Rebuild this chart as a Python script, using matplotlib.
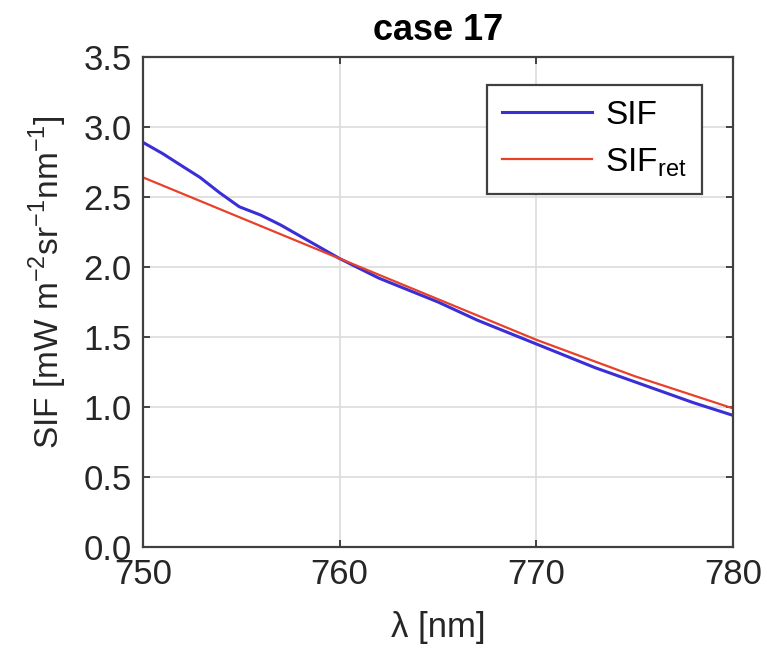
import numpy as np
import matplotlib.pyplot as plt

plt.rcParams['font.family'] = ['Liberation Sans', 'DejaVu Sans']
plt.rcParams['mathtext.fontset'] = 'custom'
plt.rcParams['mathtext.rm'] = 'Liberation Sans'

# wavelength [nm] and SIF values
wl_sif = [750, 751, 752, 752.9, 753.9, 754.9, 756, 757, 758, 759, 760, 762, 765, 767,
          770, 773, 776, 778, 780]
sif = [2.89, 2.81, 2.72, 2.64, 2.53, 2.43, 2.37, 2.30, 2.22, 2.14, 2.06, 1.92, 1.75, 1.62,
       1.45, 1.28, 1.13, 1.03, 0.94]

wl_ret = [750, 755, 760, 765, 770, 775, 780]
sif_ret = [2.64, 2.35, 2.06, 1.77, 1.48, 1.22, 0.99]

xticks = [750, 760, 770, 780]
yticks = [0.0, 0.5, 1.0, 1.5, 2.0, 2.5, 3.0, 3.5]

fig = plt.figure(figsize=(7.67, 6.55), dpi=100)
ax = fig.add_axes([0.1864, 0.1649, 0.7693, 0.7481])

ax.plot(wl_sif, sif, color='#3a2fd6', lw=2.2, label='SIF')
ax.plot(wl_ret, sif_ret, color='#e8402a', lw=1.6, label=r'SIF$_{\mathrm{ret}}$')

ax.set_xlim(750, 780)
ax.set_ylim(0, 3.5)
ax.set_xticks(xticks)
ax.set_yticks(yticks)
ax.set_yticklabels([f'{v:.1f}' for v in yticks])
ax.grid(True, color='#dcdcdc', lw=1.2)
ax.set_axisbelow(True)
ax.tick_params(direction='in', length=5, width=1.2, top=True, right=True,
               labelsize=25, colors='#262626', pad=8)
for s in ax.spines.values():
    s.set_color('#404040')
    s.set_linewidth(1.6)

ax.set_xlabel('\u03bb [nm]', fontsize=25, color='#262626', labelpad=14)
ax.set_ylabel(r'SIF [mW m$^{-2}$sr$^{-1}$nm$^{-1}$]', fontsize=24, color='#262626')
ax.yaxis.set_label_coords(-0.125, 0.54)
ax.set_title('case 17', fontsize=26, fontweight='bold', pad=12)

leg = ax.legend(loc='upper right', bbox_to_anchor=(0.947, 0.943), fontsize=24,
                fancybox=False, framealpha=1, edgecolor='#404040',
                handlelength=2.7, handletextpad=0.4, borderpad=0.45,
                labelspacing=0.45, borderaxespad=0)
leg.get_frame().set_linewidth(1.6)

fig.savefig('out.png', dpi=100)
